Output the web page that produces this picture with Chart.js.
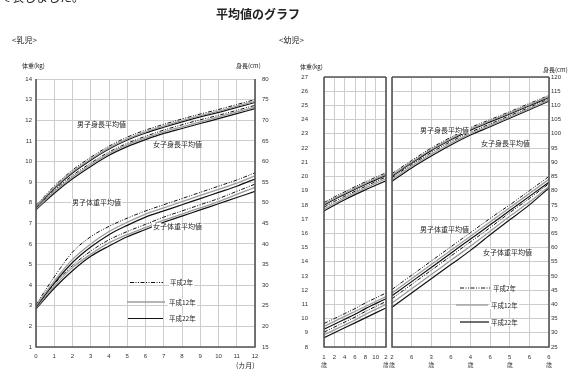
<!DOCTYPE html>
<html>
<head>
<meta charset="utf-8">
<script src="https://cdn.jsdelivr.net/npm/chart.js@4.4.0/dist/chart.umd.min.js"></script>
<style>
  body { margin: 0; background: #fff; width: 583px; height: 389px; overflow: hidden; position: relative;
         font-family: "Noto Sans CJK JP", sans-serif; color: #222; }
  canvas { position: absolute; top: 0; z-index: 1; }
  .t { position: absolute; white-space: nowrap; line-height: 1; z-index: 2; }
  .b { background: #fff; padding: 0 1px; }
</style>
</head>
<body>
<div class="t" style="left:0;top:-9px;font-size:12px">で表しました。</div>
<div class="t" style="left:216px;top:8px;font-size:12px;font-weight:bold">平均値のグラフ</div>
<div class="t" style="left:12px;top:36px;font-size:8px">&lt;乳児&gt;</div>
<div class="t" style="left:279px;top:36px;font-size:8px">&lt;幼児&gt;</div>

<div class="t" style="left:22px;top:63px;font-size:6px">体重(kg)</div>
<div class="t" style="left:236px;top:63px;font-size:6px">身長(cm)</div>
<div class="t" style="left:236px;top:362px;font-size:7px">(カ月)</div>
<div class="t" style="left:300px;top:64px;font-size:6px">体重(kg)</div>
<div class="t" style="left:543px;top:67px;font-size:6px">身長(cm)</div>

<div class="t b" style="left:76px;top:121px;font-size:7px">男子身長平均値</div>
<div class="t b" style="left:152px;top:141px;font-size:7px">女子身長平均値</div>
<div class="t b" style="left:71px;top:199px;font-size:7px">男子体重平均値</div>
<div class="t b" style="left:152px;top:223px;font-size:7px">女子体重平均値</div>
<div class="t b" style="left:169px;top:279px;font-size:6.5px">平成2年</div>
<div class="t b" style="left:168px;top:299px;font-size:6.5px">平成12年</div>
<div class="t b" style="left:168px;top:315px;font-size:6.5px">平成22年</div>

<div class="t b" style="left:419px;top:127px;font-size:7px">男子身長平均値</div>
<div class="t b" style="left:480px;top:140px;font-size:7px">女子身長平均値</div>
<div class="t b" style="left:419px;top:226px;font-size:7px">男子体重平均値</div>
<div class="t b" style="left:482px;top:249px;font-size:7px">女子体重平均値</div>
<div class="t b" style="left:492px;top:285px;font-size:6.5px">平成2年</div>
<div class="t b" style="left:490px;top:302px;font-size:6.5px">平成12年</div>
<div class="t b" style="left:490px;top:319px;font-size:6.5px">平成22年</div>

<canvas id="infant" width="290" height="389" style="left:0"></canvas>
<canvas id="toddler1" width="108" height="389" style="left:280px"></canvas>
<canvas id="toddler2" width="195" height="389" style="left:388px"></canvas>

<script>
// ---- 乳児 (0〜12カ月) ----
const months = [0, 1, 2, 3, 4, 5, 6, 7, 8, 9, 10, 11, 12];

const infBoyHtH2   = [49.3, 54.0, 57.9, 61.0, 63.7, 65.9, 67.6, 69.0, 70.3, 71.5, 72.6, 73.8, 75.0];
const infBoyHtH12  = [49.1, 53.7, 57.5, 60.6, 63.3, 65.5, 67.2, 68.6, 69.9, 71.1, 72.2, 73.4, 74.6];
const infBoyHtH22  = [48.9, 53.4, 57.2, 60.3, 63.0, 65.2, 66.9, 68.3, 69.6, 70.8, 71.9, 73.1, 74.3];
const infGirlHtH2  = [48.7, 53.0, 56.6, 59.6, 62.3, 64.4, 66.1, 67.6, 68.9, 70.1, 71.2, 72.4, 73.6];
const infGirlHtH12 = [48.5, 52.7, 56.2, 59.2, 61.9, 64.0, 65.7, 67.2, 68.4, 69.6, 70.8, 72.0, 73.2];
const infGirlHtH22 = [48.3, 52.3, 55.8, 58.8, 61.5, 63.6, 65.3, 66.8, 68.0, 69.2, 70.4, 71.6, 72.8];

const infBoyWtH2   = [3.05, 4.4, 5.6, 6.35, 6.85, 7.25, 7.6, 7.9, 8.2, 8.5, 8.8, 9.1, 9.45];
const infBoyWtH12  = [3.0, 4.2, 5.25, 6.0, 6.6, 7.05, 7.45, 7.75, 8.05, 8.35, 8.65, 8.95, 9.3];
const infBoyWtH22  = [2.95, 4.1, 5.1, 5.85, 6.45, 6.9, 7.3, 7.6, 7.9, 8.2, 8.5, 8.8, 9.15];
const infGirlWtH2  = [2.95, 4.05, 4.95, 5.65, 6.2, 6.6, 6.95, 7.3, 7.6, 7.9, 8.2, 8.55, 8.9];
const infGirlWtH12 = [2.9, 3.95, 4.85, 5.5, 6.05, 6.45, 6.8, 7.15, 7.45, 7.75, 8.05, 8.4, 8.75];
const infGirlWtH22 = [2.85, 3.85, 4.7, 5.4, 5.9, 6.35, 6.7, 7.05, 7.35, 7.65, 7.95, 8.25, 8.55];

// ---- 幼児 1歳〜2歳 (月齢) ----
const tdMonths = [12, 14, 16, 18, 20, 22, 24];

const t1BoyHtH2   = [75.8, 77.8, 79.6, 81.4, 83.1, 84.7, 86.3];
const t1BoyHtH12  = [75.3, 77.3, 79.1, 80.9, 82.6, 84.2, 85.8];
const t1BoyHtH22  = [74.9, 76.9, 78.7, 80.5, 82.2, 83.8, 85.4];
const t1GirlHtH2  = [74.2, 76.2, 78.0, 79.8, 81.5, 83.2, 84.8];
const t1GirlHtH12 = [73.5, 75.5, 77.4, 79.2, 80.9, 82.6, 84.2];
const t1GirlHtH22 = [72.9, 74.9, 76.8, 78.6, 80.3, 81.9, 83.5];

const t1BoyWtH2   = [9.65, 10.0, 10.35, 10.7, 11.1, 11.45, 11.8];
const t1BoyWtH12  = [9.45, 9.8, 10.15, 10.5, 10.85, 11.2, 11.55];
const t1BoyWtH22  = [9.25, 9.6, 9.95, 10.3, 10.7, 11.05, 11.4];
const t1GirlWtH2  = [9.05, 9.4, 9.75, 10.1, 10.5, 10.85, 11.2];
const t1GirlWtH12 = [8.85, 9.2, 9.55, 9.9, 10.3, 10.65, 11.0];
const t1GirlWtH22 = [8.65, 9.0, 9.35, 9.7, 10.05, 10.4, 10.75];

// ---- 幼児 2歳〜6歳 (年齢) ----
const tdYears = [2, 2.5, 3, 3.5, 4, 4.5, 5, 5.5, 6];

const t2BoyHtH2   = [86.0, 90.6, 95.0, 98.8, 102.2, 105.0, 107.8, 110.7, 113.5];
const t2BoyHtH12  = [85.5, 90.1, 94.5, 98.3, 101.7, 104.6, 107.4, 110.3, 113.2];
const t2BoyHtH22  = [85.1, 89.7, 94.1, 97.9, 101.3, 104.2, 107.0, 109.9, 112.8];
const t2GirlHtH2  = [84.6, 89.2, 93.4, 97.3, 100.6, 103.5, 106.4, 109.3, 112.3];
const t2GirlHtH12 = [84.0, 88.6, 92.8, 96.7, 100.1, 103.0, 105.9, 108.9, 111.9];
const t2GirlHtH22 = [83.3, 88.0, 92.2, 96.1, 99.6, 102.5, 105.5, 108.5, 111.5];

const t2BoyWtH2   = [12.05, 13.05, 14.05, 15.05, 16.05, 17.05, 18.0, 19.0, 20.0];
const t2BoyWtH12  = [11.8, 12.8, 13.8, 14.8, 15.8, 16.8, 17.8, 18.8, 19.8];
const t2BoyWtH22  = [11.6, 12.6, 13.6, 14.6, 15.6, 16.6, 17.6, 18.6, 19.6];
const t2GirlWtH2  = [11.4, 12.4, 13.4, 14.4, 15.4, 16.4, 17.45, 18.45, 19.5];
const t2GirlWtH12 = [11.1, 12.1, 13.1, 14.1, 15.1, 16.15, 17.2, 18.2, 19.3];
const t2GirlWtH22 = [10.8, 11.8, 12.8, 13.8, 14.8, 15.9, 16.95, 18.0, 19.2];

// 年次ごとの線種
const STYLE = {
  h2:  { borderColor: '#111', borderWidth: 1, borderDash: [4, 1.5, 1, 1.5, 1, 1.5] },
  h12: { borderColor: '#9c9c9c', borderWidth: 1.3, borderDash: [] },
  h22: { borderColor: '#111', borderWidth: 1.2, borderDash: [] },
};

const GRID = '#cdcdcd';
const TICK_FONT = { family: 'Liberation Sans, "Noto Sans CJK JP"', size: 6, lineHeight: 1.4 };

function line(xs, ys, era, axis) {
  return {
    data: xs.map((x, i) => ({ x, y: ys[i] })),
    yAxisID: axis,
    ...STYLE[era],
    pointRadius: 0,
    fill: false,
    cubicInterpolationMode: 'monotone',
  };
}

// 目盛り文字のはみ出しで描画領域がずれないようにする
function fixSize(prop, size) {
  return (s) => {
    s[prop] = size;
    s.paddingLeft = 0; s.paddingRight = 0; s.paddingTop = 0; s.paddingBottom = 0;
  };
}

// パネル枠
const framePlugin = {
  id: 'frame',
  afterDatasetsDraw(chart, args, opts) {
    const { ctx, chartArea: a } = chart;
    ctx.save();
    ctx.strokeStyle = '#555';
    ctx.lineWidth = 1.6;
    ctx.beginPath();
    if (opts.top) { ctx.moveTo(a.left, a.top); ctx.lineTo(a.right, a.top); }
    ctx.moveTo(a.left, a.top); ctx.lineTo(a.left, a.bottom);
    ctx.lineTo(a.right, a.bottom); ctx.lineTo(a.right, a.top);
    ctx.stroke();
    ctx.restore();
  },
};

// 凡例の線 (文字はHTML)
const eraLegendPlugin = {
  id: 'eraLegend',
  afterDatasetsDraw(chart, args, opts) {
    if (!opts.items) return;
    const { ctx } = chart;
    opts.items.forEach((it) => {
      const st = STYLE[it.era];
      ctx.save();
      ctx.strokeStyle = st.borderColor;
      ctx.lineWidth = st.borderWidth;
      ctx.setLineDash(st.borderDash);
      ctx.beginPath();
      ctx.moveTo(it.x1, it.y);
      ctx.lineTo(it.x2, it.y);
      ctx.stroke();
      ctx.restore();
    });
  },
};

Chart.register(framePlugin, eraLegendPlugin);

function baseOptions(top, padL, padR) {
  return {
    responsive: false,
    animation: false,
    layout: { padding: { top, left: padL, right: padR, bottom: 0 } },
    plugins: { legend: { display: false }, tooltip: { enabled: false } },
  };
}

function sixLines(xs, bh2, bh12, bh22, gh2, gh12, gh22, axis) {
  return [
    line(xs, bh12, 'h12', axis), line(xs, bh22, 'h22', axis), line(xs, bh2, 'h2', axis),
    line(xs, gh12, 'h12', axis), line(xs, gh22, 'h22', axis), line(xs, gh2, 'h2', axis),
  ];
}

// ---- 乳児 ----
const infOpts = baseOptions(79, 0, 0);
infOpts.plugins.frame = { top: false };
infOpts.plugins.eraLegend = {
  items: [
    { era: 'h2', x1: 130, x2: 163, y: 282.5 },
    { era: 'h12', x1: 127, x2: 165, y: 302 },
    { era: 'h22', x1: 128, x2: 163, y: 318.5 },
  ],
};
infOpts.scales = {
  x: {
    type: 'linear', min: 0, max: 12,
    ticks: { stepSize: 1, padding: 5, font: TICK_FONT, color: '#333', maxRotation: 0, autoSkip: false },
    grid: { color: GRID, drawTicks: false }, border: { display: false },
    afterFit: fixSize('height', 42),
  },
  kg: {
    position: 'left', min: 1, max: 14,
    ticks: { stepSize: 1, padding: 4, font: TICK_FONT, color: '#333' },
    grid: { color: GRID, drawTicks: false }, border: { display: false },
    afterFit: fixSize('width', 36),
  },
  cm: {
    position: 'right', min: 15, max: 80,
    ticks: { stepSize: 5, padding: 7, font: TICK_FONT, color: '#333' },
    grid: { display: false, drawTicks: false }, border: { display: false },
    afterFit: fixSize('width', 35),
  },
};

new Chart(document.getElementById('infant'), {
  type: 'line',
  data: {
    datasets: [
      ...sixLines(months, infBoyHtH2, infBoyHtH12, infBoyHtH22, infGirlHtH2, infGirlHtH12, infGirlHtH22, 'cm'),
      ...sixLines(months, infBoyWtH2, infBoyWtH12, infBoyWtH22, infGirlWtH2, infGirlWtH12, infGirlWtH22, 'kg'),
    ],
  },
  options: infOpts,
});

// ---- 幼児 1〜2歳 ----
const t1Labels = { 12: ['1', '歳'], 24: ['2', '歳'] };
const t1Opts = baseOptions(77, 0, 2);
t1Opts.plugins.frame = { top: true };
t1Opts.scales = {
  x: {
    type: 'linear', min: 12, max: 24,
    ticks: {
      stepSize: 2, padding: 6, font: TICK_FONT, color: '#333', maxRotation: 0, minRotation: 0, autoSkip: false,
      callback: (v) => t1Labels[v] || String(v - 12),
    },
    grid: { color: GRID, drawTicks: false }, border: { display: false },
    afterFit: fixSize('height', 42),
  },
  kg: {
    position: 'left', min: 8, max: 27,
    ticks: { stepSize: 1, padding: 16, font: TICK_FONT, color: '#333' },
    grid: { color: GRID, drawTicks: false }, border: { display: false },
    afterFit: fixSize('width', 44),
  },
  cm: { position: 'right', min: 25, max: 120, display: false },
};

new Chart(document.getElementById('toddler1'), {
  type: 'line',
  data: {
    datasets: [
      ...sixLines(tdMonths, t1BoyHtH2, t1BoyHtH12, t1BoyHtH22, t1GirlHtH2, t1GirlHtH12, t1GirlHtH22, 'cm'),
      ...sixLines(tdMonths, t1BoyWtH2, t1BoyWtH12, t1BoyWtH22, t1GirlWtH2, t1GirlWtH12, t1GirlWtH22, 'kg'),
    ],
  },
  options: t1Opts,
});

// ---- 幼児 2〜6歳 ----
const t2Opts = baseOptions(77, 4, 0);
t2Opts.plugins.frame = { top: true };
t2Opts.plugins.eraLegend = {
  items: [
    { era: 'h2', x1: 72, x2: 102, y: 288 },
    { era: 'h12', x1: 68, x2: 100, y: 305 },
    { era: 'h22', x1: 72, x2: 101, y: 322 },
  ],
};
t2Opts.scales = {
  x: {
    type: 'linear', min: 2, max: 6,
    ticks: {
      stepSize: 0.5, padding: 6, font: TICK_FONT, color: '#333', maxRotation: 0, minRotation: 0, autoSkip: false,
      callback: (v) => (Number.isInteger(v) ? [String(v), '歳'] : '6'),
    },
    grid: { color: GRID, drawTicks: false }, border: { display: false },
    afterFit: fixSize('height', 42),
  },
  kg: { position: 'left', min: 8, max: 27, display: false },
  cm: {
    position: 'right', min: 25, max: 120,
    ticks: { stepSize: 5, padding: 2, font: TICK_FONT, color: '#333' },
    grid: { color: GRID, drawTicks: false }, border: { display: false },
    afterFit: fixSize('width', 34),
  },
};

new Chart(document.getElementById('toddler2'), {
  type: 'line',
  data: {
    datasets: [
      ...sixLines(tdYears, t2BoyHtH2, t2BoyHtH12, t2BoyHtH22, t2GirlHtH2, t2GirlHtH12, t2GirlHtH22, 'cm'),
      ...sixLines(tdYears, t2BoyWtH2, t2BoyWtH12, t2BoyWtH22, t2GirlWtH2, t2GirlWtH12, t2GirlWtH22, 'kg'),
    ],
  },
  options: t2Opts,
});
</script>
</body>
</html>
